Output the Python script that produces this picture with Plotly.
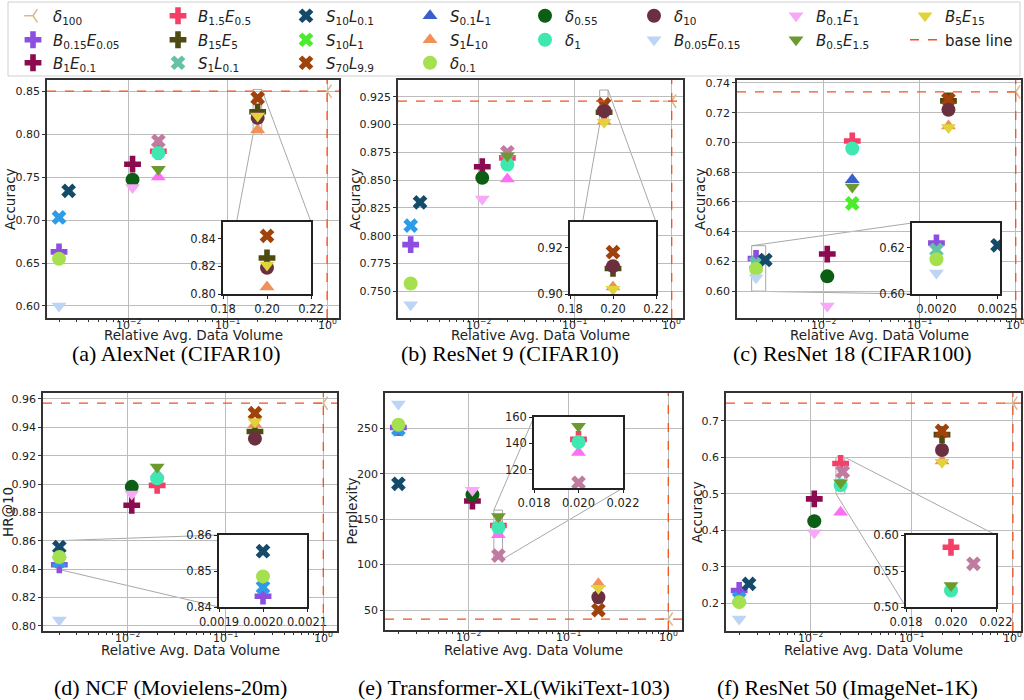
import math
import plotly.graph_objects as go

W, H = 1024, 700

# ---------------- data ----------------
PANEL_CAPTIONS = ["(a) AlexNet (CIFAR10)", "(b) ResNet 9 (CIFAR10)", "(c) ResNet 18 (CIFAR100)",
                  "(d) NCF (Movielens-20m)", "(e) Transformer-XL(WikiText-103)", "(f) ResNet 50 (ImageNet-1K)"]
Y_TITLES = ["Accuracy", "Accuracy", "Accuracy", "HR@10", "Perplexity", "Accuracy"]
X_TITLE = "Relative Avg. Data Volume"
X_TICK_VALUES = [0.01, 0.1, 1.0]
X_TICK_LABELS = ["10<sup>\u22122</sup>", "10<sup>\u22121</sup>", "10<sup>0</sup>"]

BASELINE_X = [1.0, 1.0, 1.0, 1.0, 1.0, 1.0]
BASELINE_Y = [0.850, 0.921, 0.734, 0.957, 40.0, 0.748]

# one value per panel (a..f); None = not plotted
D100_X = [1.0, 1.0, 1.0, 1.0, 1.0, 1.0]
D100_Y = [0.850, 0.921, 0.734, 0.957, 40.0, 0.748]
B015E005_X = [0.002, 0.002, 0.002, 0.002, 0.002, 0.002]
B015E005_Y = [0.663, 0.792, 0.622, 0.843, 251, 0.235]
B1E01_X = [0.011, 0.011, 0.011, 0.011, 0.011, 0.011]
B1E01_Y = [0.765, 0.862, 0.625, 0.885, 170, 0.486]
B15E05_X = [0.02, 0.02, 0.02, 0.02, 0.02, 0.02]
B15E05_Y = [0.780, 0.870, 0.701, 0.899, 143, 0.583]
B15E5_X = [0.2, 0.2, 0.2, 0.2, 0.2, 0.2]
B15E5_Y = [0.826, 0.911, 0.728, 0.937, None, 0.662]
S1L01_X = [0.002, 0.002, 0.002, 0.002, 0.002, 0.002]
S1L01_Y = [None, None, 0.619, None, None, None]
S01L01_X = [0.002, 0.002, 0.002, 0.002, 0.002, 0.002]
S01L01_Y = [0.703, 0.809, None, 0.8455, 249, 0.213]
S10L01_X = [0.0025, 0.0025, 0.0025, 0.002, 0.002, 0.0025]
S10L01_Y = [0.734, 0.830, 0.621, 0.8555, 189, 0.253]
S10L1_X = [0.02, 0.02, 0.02, 0.02, 0.02, 0.02]
S10L1_Y = [None, None, 0.659, None, None, None]
S70L99_X = [0.2, 0.2, 0.2, 0.2, 0.2, 0.2]
S70L99_Y = [0.842, 0.918, 0.729, 0.950, 50, 0.672]
SMAUVE_X = [0.02, 0.02, 0.02, 0.02, 0.02, 0.021]
SMAUVE_Y = [0.792, 0.875, None, None, 110, 0.560]
S01L1_X = [0.02, 0.02, 0.02, 0.02, 0.02, 0.02]
S01L1_Y = [None, None, 0.675, None, None, None]
S1L10_X = [0.2, 0.2, 0.2, 0.2, 0.2, 0.2]
S1L10_Y = [0.805, 0.903, 0.711, 0.942, 79, 0.590]
TMAG_X = [0.02, 0.02, 0.02, 0.02, 0.02, 0.02]
TMAG_Y = [0.750, 0.851, None, 0.907, 133, 0.449]
D01_X = [0.002, 0.002, 0.002, 0.002, 0.002, 0.002]
D01_Y = [0.655, 0.757, 0.615, 0.8485, 254, 0.203]
D055_X = [0.011, 0.011, 0.011, 0.011, 0.011, 0.011]
D055_Y = [0.747, 0.852, 0.610, 0.898, 177, 0.425]
D1_X = [0.02, 0.02, 0.02, 0.02, 0.02, 0.02]
D1_Y = [0.778, 0.864, 0.696, 0.904, 141, 0.523]
D10_X = [0.2, 0.2, 0.2, 0.2, 0.2, 0.2]
D10_Y = [0.819, 0.912, 0.722, 0.932, 64, 0.620]
B005E015_X = [0.002, 0.002, 0.002, 0.002, 0.002, 0.002]
B005E015_Y = [0.600, 0.738, 0.609, 0.804, 277, 0.157]
B01E1_X = [0.011, 0.011, 0.011, 0.011, 0.011, 0.011]
B01E1_Y = [0.738, 0.833, 0.590, 0.893, 182, 0.393]
B05E15_X = [0.02, 0.02, 0.02, 0.02, 0.02, 0.02]
B05E15_Y = [0.759, 0.872, 0.670, 0.912, 153, 0.530]
B5E15_X = [0.2, 0.2, 0.2, 0.2, 0.2, 0.2]
B5E15_Y = [0.821, 0.902, 0.710, 0.944, 74, 0.586]

# ---------------- styles ----------------
BASE_COLOR = "#f4511e"
# (label, symbol, color, X, Y, legend slot index or None)
SERIES = [
    ("<i>\u03b4</i><sub>100</sub>", "y-left", "#d9b98c", D100_X, D100_Y, 0),
    ("<i>B</i><sub>0.15</sub><i>E</i><sub>0.05</sub>", "cross", "#8c4fe0", B015E005_X, B015E005_Y, 1),
    ("<i>B</i><sub>1</sub><i>E</i><sub>0.1</sub>", "cross", "#8b0a50", B1E01_X, B1E01_Y, 2),
    ("<i>B</i><sub>1.5</sub><i>E</i><sub>0.5</sub>", "cross", "#f43f66", B15E05_X, B15E05_Y, 3),
    ("<i>B</i><sub>15</sub><i>E</i><sub>5</sub>", "cross", "#4d4a12", B15E5_X, B15E5_Y, 4),
    ("<i>S</i><sub>1</sub><i>L</i><sub>0.1</sub>", "x", "#66c2a5", S1L01_X, S1L01_Y, 5),
    ("extra1", "x", "#2e9be6", S01L01_X, S01L01_Y, None),
    ("<i>S</i><sub>10</sub><i>L</i><sub>0.1</sub>", "x", "#144a6a", S10L01_X, S10L01_Y, 6),
    ("<i>S</i><sub>10</sub><i>L</i><sub>1</sub>", "x", "#4deb2e", S10L1_X, S10L1_Y, 7),
    ("<i>S</i><sub>70</sub><i>L</i><sub>9.9</sub>", "x", "#a0420a", S70L99_X, S70L99_Y, 8),
    ("extra2", "x", "#c27ba0", SMAUVE_X, SMAUVE_Y, None),
    ("<i>S</i><sub>0.1</sub><i>L</i><sub>1</sub>", "triangle-up", "#3a5fcd", S01L1_X, S01L1_Y, 9),
    ("<i>S</i><sub>1</sub><i>L</i><sub>10</sub>", "triangle-up", "#f0915a", S1L10_X, S1L10_Y, 10),
    ("extra3", "triangle-up", "#ff6ef5", TMAG_X, TMAG_Y, None),
    ("<i>\u03b4</i><sub>0.1</sub>", "circle", "#a5e04f", D01_X, D01_Y, 11),
    ("<i>\u03b4</i><sub>0.55</sub>", "circle", "#0b5e13", D055_X, D055_Y, 12),
    ("<i>\u03b4</i><sub>1</sub>", "circle", "#3ee8b0", D1_X, D1_Y, 13),
    ("<i>\u03b4</i><sub>10</sub>", "circle", "#6b3040", D10_X, D10_Y, 14),
    ("<i>B</i><sub>0.05</sub><i>E</i><sub>0.15</sub>", "triangle-down", "#bcd4f5", B005E015_X, B005E015_Y, 15),
    ("<i>B</i><sub>0.1</sub><i>E</i><sub>1</sub>", "triangle-down", "#f7a8f7", B01E1_X, B01E1_Y, 16),
    ("<i>B</i><sub>0.5</sub><i>E</i><sub>1.5</sub>", "triangle-down", "#6b9a2e", B05E15_X, B05E15_Y, 17),
    ("<i>B</i><sub>5</sub><i>E</i><sub>15</sub>", "triangle-down", "#e0d43a", B5E15_X, B5E15_Y, 18),
]
BASE_LABEL = "base line"

# layout geometry (pixels)
MAIN_DOM_PX = [((47, 339), (80, 318)), ((398, 683), (80, 318)), ((737, 1021), (80, 318)),
               ((43, 337), (393, 631)), ((385, 682), (393, 630)), ((726, 1021), (393, 631))]
INSET_DOM_PX = [((223, 311), (222, 294)), ((570, 656), (222, 294)), ((912, 1000), (223, 294)),
                ((219, 307), (535, 607)), ((534, 623), (417, 488)), ((906, 996), (535, 607))]
XRANGE_LOG = [[-2.82, 0.12], [-2.83, 0.117], [-2.897, 0.055], [-2.866, 0.14], [-2.833, 0.137], [-2.829, 0.08]]
YRANGE = [[0.586, 0.863], [0.726, 0.940], [0.582, 0.742], [0.7963, 0.9642], [28, 289], [0.124, 0.776]]
YTICKS = [[0.60, 0.65, 0.70, 0.75, 0.80, 0.85],
          [0.750, 0.775, 0.800, 0.825, 0.850, 0.875, 0.900, 0.925],
          [0.60, 0.62, 0.64, 0.66, 0.68, 0.70, 0.72, 0.74],
          [0.80, 0.82, 0.84, 0.86, 0.88, 0.90, 0.92, 0.94, 0.96],
          [50, 100, 150, 200, 250],
          [0.2, 0.3, 0.4, 0.5, 0.6, 0.7]]
YFMT = [".2f", ".3f", ".2f", ".2f", "d", ".1f"]
INSET_X = [[0.18, 0.22], [0.18, 0.22], [0.0018, 0.00252], [0.0019, 0.0021], [0.018, 0.022], [0.018, 0.022]]
INSET_Y = [[0.80, 0.852], [0.90, 0.931], [0.60, 0.6306], [0.84, 0.86], [106, 160], [0.50, 0.60]]
INSET_XT = [[0.18, 0.20, 0.22], [0.18, 0.20, 0.22], [0.0020, 0.0025], [0.0019, 0.0020, 0.0021],
            [0.018, 0.020, 0.022], [0.018, 0.020, 0.022]]
INSET_XFMT = [".2f", ".2f", ".4f", ".4f", ".3f", ".3f"]
INSET_YT = [[0.80, 0.82, 0.84], [0.90, 0.92], [0.60, 0.62], [0.84, 0.85, 0.86], [120, 140, 160], [0.50, 0.55, 0.60]]
INSET_YFMT = [".2f", ".2f", ".2f", ".2f", "d", ".2f"]
CONNECT = [("UR", "LL"), ("UR", "LL"), ("UL", "LL"), ("UL", "LL"), ("UL", "LR"), ("UR", "LL")]
CAPTION_POS = [(176, 353), (510, 353), (852, 353), (170, 687), (514, 687), (847, 687)]
XTITLE_Y = [335, 335, 335, 650, 650, 650]
YTITLE_X = [10, 355, 700, 8, 351, 697]
LEGEND_TEXT_X = [55, 200, 328, 452, 567, 676, 818, 947]
LEGEND_ROWS = [3, 3, 3, 3, 2, 2, 2, 2]
LEGEND_ROW_Y = [16, 40, 63]

FONT = "DejaVu Sans"
GRID = "#bcbcbc"
FRAME = "#333333"
TICK_FONT = 11
TITLE_FONT = 13.5
CAPTION_FONT = 22


def dom(px_pair, is_y=False):
    a, b = px_pair
    if is_y:
        return [1 - b / H, 1 - a / H]
    return [a / W, b / W]


def ax_names(n):
    return ("x" if n == 1 else f"x{n}", "y" if n == 1 else f"y{n}")


def marker_style(symbol, color):
    if symbol == "y-left":
        return dict(symbol=symbol, size=11, color=color, line=dict(color=color, width=1.5))
    return dict(symbol=symbol, size=14 if symbol in ("circle", "cross") else 13, color=color,
                line=dict(width=0))


fig = go.Figure()
layout = dict(width=W, height=H, margin=dict(l=0, r=0, t=0, b=0, autoexpand=False),
              paper_bgcolor="white", plot_bgcolor="white",
              font=dict(family=FONT, size=TICK_FONT, color="#222"), shapes=[], annotations=[])

minor_vals = [m * 10 ** e for e in range(-4, 1) for m in range(2, 10)]

for i in range(6):
    n = i + 1
    xn, yn = ax_names(n)
    layout["xaxis" if n == 1 else f"xaxis{n}"] = dict(
        type="log", domain=dom(MAIN_DOM_PX[i][0]), range=XRANGE_LOG[i], anchor=yn,
        tickvals=X_TICK_VALUES, showticklabels=False, showgrid=True, gridcolor=GRID, gridwidth=1.2,
        showline=True, linecolor=FRAME, linewidth=1.5, mirror=True, ticks="outside", ticklen=3.5,
        tickcolor=FRAME, zeroline=False, automargin=False,
        minor=dict(ticks="outside", ticklen=2, tickcolor=FRAME, tickvals=minor_vals, showgrid=False))
    layout["yaxis" if n == 1 else f"yaxis{n}"] = dict(
        domain=dom(MAIN_DOM_PX[i][1], True), range=YRANGE[i], anchor=xn,
        tickvals=YTICKS[i], tickformat=YFMT[i], showgrid=True, gridcolor=GRID, gridwidth=1.2,
        showline=True, linecolor=FRAME, linewidth=1.5, mirror=True, ticks="outside", ticklen=3,
        tickcolor=FRAME, zeroline=False, tickfont=dict(size=TICK_FONT), automargin=False)
    # inset
    m = n + 6
    xm, ym = ax_names(m)
    layout[f"xaxis{m}"] = dict(
        domain=dom(INSET_DOM_PX[i][0]), range=INSET_X[i], anchor=ym, tickvals=INSET_XT[i],
        tickformat=INSET_XFMT[i], showgrid=False, zeroline=False, showline=True, linecolor="#222",
        linewidth=1.5, mirror=True, ticks="outside", ticklen=3, tickcolor="#222", tickangle=0,
        tickfont=dict(size=TICK_FONT + 0.5), automargin=False)
    layout[f"yaxis{m}"] = dict(
        domain=dom(INSET_DOM_PX[i][1], True), range=INSET_Y[i], anchor=xm, tickvals=INSET_YT[i],
        tickformat=INSET_YFMT[i], showgrid=False, zeroline=False, showline=True, linecolor="#222",
        linewidth=1.5, mirror=True, ticks="outside", ticklen=3, tickcolor="#222",
        tickfont=dict(size=TICK_FONT + 0.5), automargin=False)

    # baselines
    layout["shapes"].append(dict(type="line", xref=f"{xn} domain", x0=0, x1=1, yref=yn,
                                 y0=BASELINE_Y[i], y1=BASELINE_Y[i],
                                 line=dict(color=BASE_COLOR, width=1.3, dash="dash"), layer="above"))
    layout["shapes"].append(dict(type="line", xref=xn, x0=BASELINE_X[i], x1=BASELINE_X[i],
                                 yref=f"{yn} domain", y0=0, y1=1,
                                 line=dict(color=BASE_COLOR, width=1.3, dash="dash"), layer="above"))
    # zoom rectangle on main
    layout["shapes"].append(dict(type="rect", xref=xn, yref=yn, x0=INSET_X[i][0], x1=INSET_X[i][1],
                                 y0=INSET_Y[i][0], y1=INSET_Y[i][1],
                                 line=dict(color="#a8a8a8", width=1), layer="below"))

    # connectors (paper coordinates)
    def main_to_paper(xv, yv, i=i):
        (x0p, x1p), (y0p, y1p) = MAIN_DOM_PX[i]
        r0, r1 = XRANGE_LOG[i]
        px = x0p + (math.log10(xv) - r0) / (r1 - r0) * (x1p - x0p)
        yr0, yr1 = YRANGE[i]
        py = y1p - (yv - yr0) / (yr1 - yr0) * (y1p - y0p)
        return px / W, 1 - py / H

    for corner in CONNECT[i]:
        cx = INSET_X[i][0] if corner[1] == "L" else INSET_X[i][1]
        cy = INSET_Y[i][1] if corner[0] == "U" else INSET_Y[i][0]
        ax0, ay0 = main_to_paper(cx, cy)
        (ix0, ix1), (iy0, iy1) = INSET_DOM_PX[i]
        bx = (ix0 if corner[1] == "L" else ix1) / W
        by = 1 - (iy0 if corner[0] == "U" else iy1) / H
        layout["shapes"].append(dict(type="line", xref="paper", yref="paper", x0=ax0, y0=ay0, x1=bx, y1=by,
                                     line=dict(color="#a8a8a8", width=1), layer="below"))

    (x0p, x1p), (y0p, y1p) = MAIN_DOM_PX[i]
    # x tick labels (log decades) placed right under the frame
    for v, t in zip(X_TICK_VALUES, X_TICK_LABELS):
        layout["annotations"].append(dict(text=t, x=math.log10(v), xref=xn, y=1 - (y1p + 6) / H,
                                          yref="paper", showarrow=False, xanchor="center",
                                          yanchor="middle", font=dict(family=FONT, size=TICK_FONT,
                                                                      color="#222")))
    cx, cy = CAPTION_POS[i]
    layout["annotations"].append(dict(text=PANEL_CAPTIONS[i], x=cx / W, y=1 - cy / H, xref="paper",
                                      yref="paper", showarrow=False, xanchor="center", yanchor="middle",
                                      font=dict(family="Liberation Serif", size=CAPTION_FONT, color="black")))
    layout["annotations"].append(dict(text=X_TITLE, x=(x0p + x1p) / 2 / W, y=1 - XTITLE_Y[i] / H,
                                      xref="paper", yref="paper", showarrow=False, xanchor="center",
                                      yanchor="middle", font=dict(family=FONT, size=TITLE_FONT, color="#222")))
    layout["annotations"].append(dict(text=Y_TITLES[i], x=YTITLE_X[i] / W, y=1 - (y0p + y1p) / 2 / H,
                                      xref="paper", yref="paper", showarrow=False, xanchor="center",
                                      yanchor="middle", textangle=-90,
                                      font=dict(family=FONT, size=TITLE_FONT, color="#222")))

# data traces
for label, symbol, color, XS, YS, slot in SERIES:
    mk = marker_style(symbol, color)
    for i in range(6):
        if YS[i] is None:
            continue
        n = i + 1
        xn, yn = ax_names(n)
        fig.add_trace(go.Scatter(x=[XS[i]], y=[YS[i]], mode="markers", marker=mk, showlegend=False,
                                 xaxis=xn, yaxis=yn, hoverinfo="skip"))
        if INSET_X[i][0] <= XS[i] <= INSET_X[i][1] and INSET_Y[i][0] <= YS[i] <= INSET_Y[i][1]:
            xm, ym = ax_names(n + 6)
            fig.add_trace(go.Scatter(x=[XS[i]], y=[YS[i]], mode="markers", marker=mk, showlegend=False,
                                     xaxis=xm, yaxis=ym, hoverinfo="skip"))

# legend: one legend box per entry, arranged column-major in 8 columns
slots = []
for c, r in enumerate(LEGEND_ROWS):
    slots += [(c, k) for k in range(r)]
legend_entries = [(s[0], s[1], s[2], s[5]) for s in SERIES if s[5] is not None]
legend_entries.sort(key=lambda e: e[3])
legend_entries.append((BASE_LABEL, "line", BASE_COLOR, len(legend_entries)))

for label, symbol, color, slot in legend_entries:
    col, row = slots[slot]
    lname = "legend" if slot == 0 else f"legend{slot + 1}"
    if symbol == "line":
        fig.add_trace(go.Scatter(x=[None], y=[None], mode="lines", name=label,
                                 line=dict(color=color, width=1.5, dash="dash"),
                                 showlegend=True, legend=lname, xaxis="x", yaxis="y"))
    else:
        fig.add_trace(go.Scatter(x=[None], y=[None], mode="markers", marker=marker_style(symbol, color),
                                 name=label, showlegend=True, legend=lname, xaxis="x", yaxis="y"))
    layout[lname] = dict(x=(LEGEND_TEXT_X[col] - 42) / W, y=1 - LEGEND_ROW_Y[row] / H,
                         xanchor="left", yanchor="middle", bgcolor="rgba(0,0,0,0)", borderwidth=0,
                         font=dict(family=FONT, size=15, color="#222"), tracegroupgap=0)

layout["shapes"].append(dict(type="rect", xref="paper", yref="paper", x0=8 / W, x1=1020 / W,
                             y0=1 - 76 / H, y1=1 - 2 / H, line=dict(color="#d0d0d0", width=1), layer="below"))

fig.update_layout(**layout)
fig.write_html("out.html", config={"displayModeBar": False},
               post_script="document.body.style.margin='0';")
